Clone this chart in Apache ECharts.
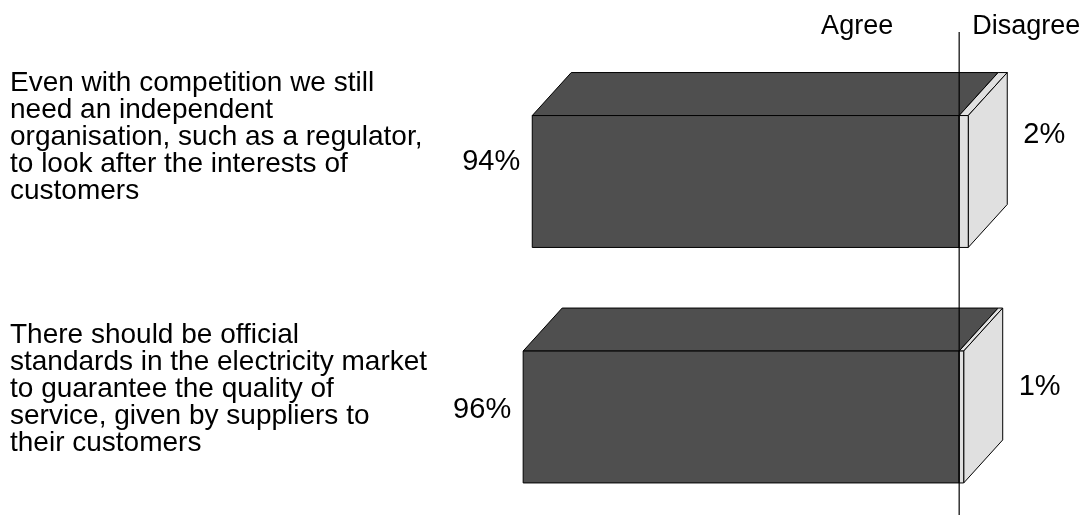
<!DOCTYPE html>
<html>
<head>
<meta charset="utf-8">
<script src="https://cdn.jsdelivr.net/npm/echarts@6/dist/echarts.min.js"></script>
<style>
  html, body { margin: 0; padding: 0; background: #fff; }
  #chart { width: 1085px; height: 515px; }
</style>
</head>
<body>
<div id="chart"></div>
<script>
// Survey statements and the share of respondents on each side (%)
const categories = [
  'Even with competition we still\nneed an independent\norganisation, such as a regulator,\nto look after the interests of\ncustomers',
  'There should be official\nstandards in the electricity market\nto guarantee the quality of\nservice, given by suppliers to\ntheir customers'
];
const agree = [94, 96];
const disagree = [2, 1];
const sideNames = ['Agree', 'Disagree'];

// Vertical nudges (px, from each bar's centre) for the text blocks
const statementShift = [-44.5, -28];
const agreeLabelShift = [-20, -7];
const disagreeLabelShift = [-47, -30];

const FONT = '"Liberation Sans", Arial, Helvetica, sans-serif';
const DARK = '#4f4f4f';
const LIGHT = '#e0e0e0';
const DEPTH_X = 39;   // extrusion of the 3D boxes
const DEPTH_Y = 43;
const BAR_RATIO = 0.56;

const rows = categories.map((c, i) => [i, agree[i], disagree[i]]);

// Front, top and side faces of one extruded box between x0 and x1
function box(x0, x1, yTop, yBot, fill) {
  const line = { stroke: '#000', lineWidth: 1 };
  return [
    { type: 'polygon', shape: { points: [[x0, yTop], [x0 + DEPTH_X, yTop - DEPTH_Y], [x1 + DEPTH_X, yTop - DEPTH_Y], [x1, yTop]] },
      style: Object.assign({ fill }, line) },
    { type: 'polygon', shape: { points: [[x1, yTop], [x1 + DEPTH_X, yTop - DEPTH_Y], [x1 + DEPTH_X, yBot - DEPTH_Y], [x1, yBot]] },
      style: Object.assign({ fill }, line) },
    { type: 'rect', shape: { x: x0, y: yTop, width: x1 - x0, height: yBot - yTop },
      style: Object.assign({ fill }, line) }
  ];
}

function renderBars(params, api) {
  const i = api.value(0);
  const a = api.value(1);
  const d = api.value(2);
  const left = api.coord([-a, i]);
  const zero = api.coord([0, i]);
  const right = api.coord([d, i]);
  const step = Math.abs(api.coord([0, 1])[1] - api.coord([0, 0])[1]);
  const h = step * BAR_RATIO;
  const yTop = zero[1] - h / 2;
  const yBot = zero[1] + h / 2;
  return {
    type: 'group',
    children: [
      ...box(left[0], zero[0], yTop, yBot, DARK),
      ...box(zero[0], right[0], yTop, yBot, LIGHT),
      { type: 'text', style: { text: a + '%', x: left[0] - 12, y: zero[1] + agreeLabelShift[i],
        align: 'right', verticalAlign: 'middle', font: '29px ' + FONT, fill: '#000' } },
      { type: 'text', style: { text: d + '%', x: right[0] + DEPTH_X + 16, y: zero[1] + disagreeLabelShift[i],
        align: 'left', verticalAlign: 'middle', font: '29px ' + FONT, fill: '#000' } },
      { type: 'text', style: { text: categories[i], x: 10, y: zero[1] + statementShift[i],
        align: 'left', verticalAlign: 'middle', font: '28px ' + FONT, lineHeight: 27, fill: '#000' } }
    ]
  };
}

// Divider at 0% with the two side headings
function renderDivider(params, api) {
  const x = api.coord([0, 0])[0];
  return {
    type: 'group',
    children: [
      { type: 'line', shape: { x1: x, y1: 32, x2: x, y2: 515 }, style: { stroke: '#000', lineWidth: 1.2 } },
      { type: 'text', style: { text: sideNames[0], x: x - 66, y: 27, align: 'right', verticalAlign: 'middle',
        font: '27px ' + FONT, fill: '#000' } },
      { type: 'text', style: { text: sideNames[1], x: x + 13, y: 27, align: 'left', verticalAlign: 'middle',
        font: '27px ' + FONT, fill: '#000' } }
    ]
  };
}

const chart = echarts.init(document.getElementById('chart'));
chart.setOption({
  animation: false,
  backgroundColor: '#fff',
  grid: { left: 505, top: 181.5, width: 545, height: 235.5 },
  xAxis: { type: 'value', min: -100, max: 20, show: false },
  yAxis: { type: 'category', data: categories, inverse: true, boundaryGap: false, show: false },
  series: [
    { type: 'custom', renderItem: renderBars, data: rows, clip: false, z: 2,
      encode: { x: [1, 2], y: 0 } },
    { type: 'custom', renderItem: renderDivider, data: [[0, 0]], clip: false, z: 5,
      encode: { x: 0, y: 1 } }
  ]
});
</script>
</body>
</html>
